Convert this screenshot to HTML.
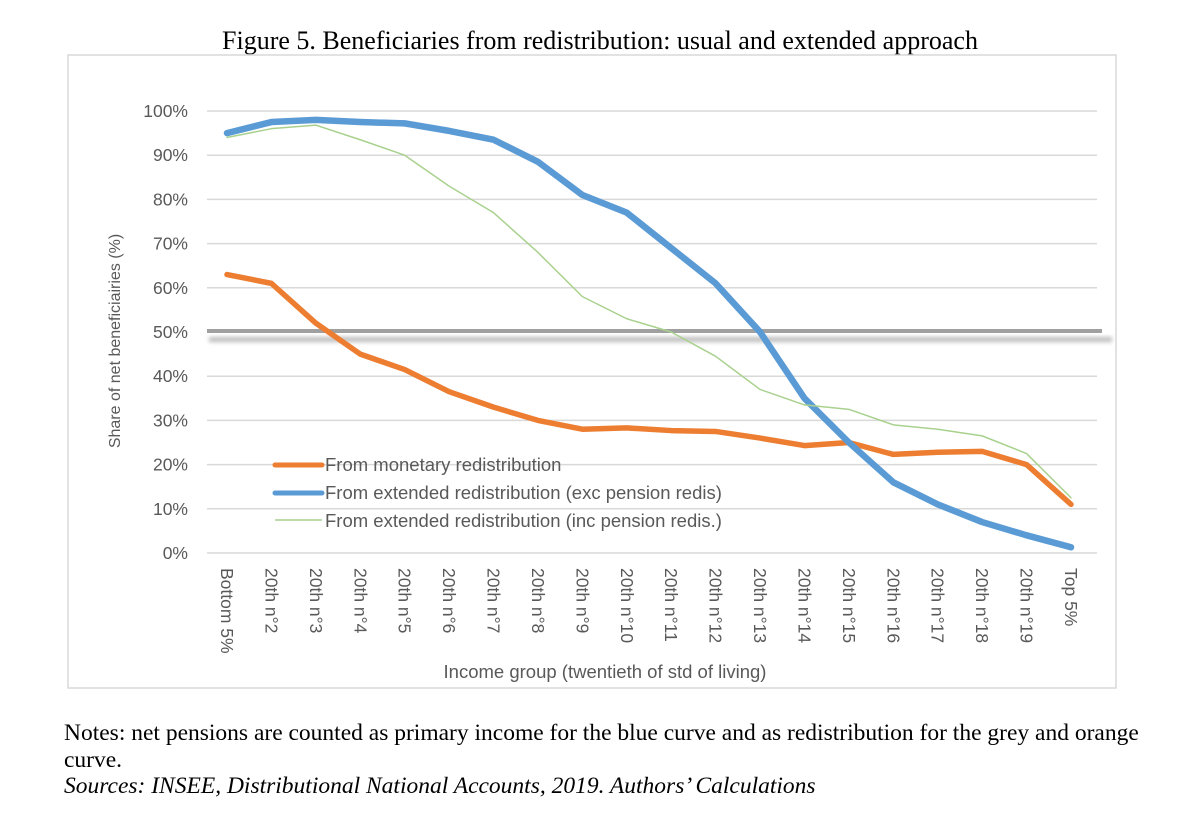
<!DOCTYPE html>
<html><head><meta charset="utf-8"><style>
body{margin:0;background:#fff;width:1200px;height:830px;overflow:hidden;font-family:"Liberation Sans",sans-serif}
.serif{font-family:"Liberation Serif",serif;color:#000}
</style></head><body>
<div class="serif" style="position:absolute;left:0;width:1200px;top:26px;text-align:center;font-size:26px">Figure 5. Beneficiaries from redistribution: usual and extended approach</div>
<svg id="chart" width="1200" height="700" style="position:absolute;left:0;top:0">
<defs><filter id="sh" x="-5%" y="-50%" width="110%" height="300%"><feGaussianBlur stdDeviation="2"/></filter></defs>
<rect x="68" y="55" width="1048" height="633" fill="none" stroke="#d9d9d9" stroke-width="1.5"/>
<g id="grid"></g><g id="ylabels"></g><g id="xlabels"></g>
<rect x="209" y="337" width="903" height="5" fill="#bbb" filter="url(#sh)"/>
<line x1="207" x2="1102" y1="331" y2="331" stroke="#a0a0a0" stroke-width="4"/>
<g id="series"></g>
<text transform="translate(120,341) rotate(-90)" text-anchor="middle" font-size="16" fill="#595959">Share of net beneficiairies (%)</text>
<text x="605" y="678" text-anchor="middle" font-size="18.5" fill="#595959">Income group (twentieth of std of living)</text>
<g font-size="18.5" fill="#595959">
<line x1="275" x2="322" y1="465" y2="465" stroke="#ed7d31" stroke-width="5" stroke-linecap="round"/>
<text x="325" y="471">From monetary redistribution</text>
<line x1="275" x2="322" y1="493" y2="493" stroke="#5b9bd5" stroke-width="5" stroke-linecap="round"/>
<text x="325" y="499">From extended redistribution (exc pension redis)</text>
<line x1="275" x2="322" y1="520" y2="520" stroke="#a9d18e" stroke-width="1.5"/>
<text x="325" y="527">From extended redistribution (inc pension redis.)</text>
</g>
</svg>
<div class="serif" style="position:absolute;left:64px;top:720px;font-size:23.5px;line-height:26.5px;width:1130px;white-space:nowrap">Notes: net pensions are counted as primary income for the blue curve and as redistribution for the grey and orange<br>curve.<br><i>Sources: INSEE, Distributional National Accounts, 2019. Authors’ Calculations</i></div>
<script>
const categories=["Bottom  5%","20th n°2","20th n°3","20th n°4","20th n°5","20th n°6","20th n°7","20th n°8","20th n°9","20th n°10","20th n°11","20th n°12","20th n°13","20th n°14","20th n°15","20th n°16","20th n°17","20th n°18","20th n°19","Top  5%"];
const monetary=[63,61,52,45,41.5,36.5,33,30,28,28.3,27.7,27.5,26,24.3,25,22.3,22.8,23,20,11];
const extendedExc=[95,97.5,98,97.5,97.2,95.5,93.5,88.5,81,77,69,61,50,35,25,16,11,7,4,1.3];
const extendedInc=[94,96,96.8,93.5,90,83,77,68,58,53,50,44.5,37,33.5,32.5,29,28,26.5,22.5,12.5];
const yTicks=[0,10,20,30,40,50,60,70,80,90,100];
const NS="http://www.w3.org/2000/svg";
const x=i=>227+i*(1071-227)/(categories.length-1);
const y=v=>553-v*4.42;
function mk(tag,attrs,parent){const e=document.createElementNS(NS,tag);for(const k in attrs)e.setAttribute(k,attrs[k]);document.getElementById(parent).appendChild(e);return e;}
yTicks.forEach(t=>{
 const l=mk('line',{x1:207,x2:1097,y1:y(t),y2:y(t),stroke:'#d9d9d9','stroke-width':1.5},'grid');
 
 
 const tx=mk('text',{x:188,y:y(t)+6,'text-anchor':'end','font-size':17.5,fill:'#595959'},'ylabels');
 tx.textContent=t+'%';
 
 
});
categories.forEach((c,i)=>{
 const tx=mk('text',{transform:`translate(${x(i)-6},568) rotate(90)`,'font-size':17.5,fill:'#595959','xml:space':'preserve'},'xlabels');
 tx.textContent=c;
 
 
});
function line(vals,color,w,name){
 const p=mk('polyline',{points:vals.map((v,i)=>x(i)+','+y(v)).join(' '),fill:'none',stroke:color,'stroke-width':w,'stroke-linejoin':'round','stroke-linecap':'round'},'series');
 
 
}
line(monetary,'#ed7d31',5.5,'monetary-line');
line(extendedExc,'#5b9bd5',6.5,'extended-exc-line');
line(extendedInc,'#a9d18e',1.5,'extended-inc-line');
</script>
</body></html>
